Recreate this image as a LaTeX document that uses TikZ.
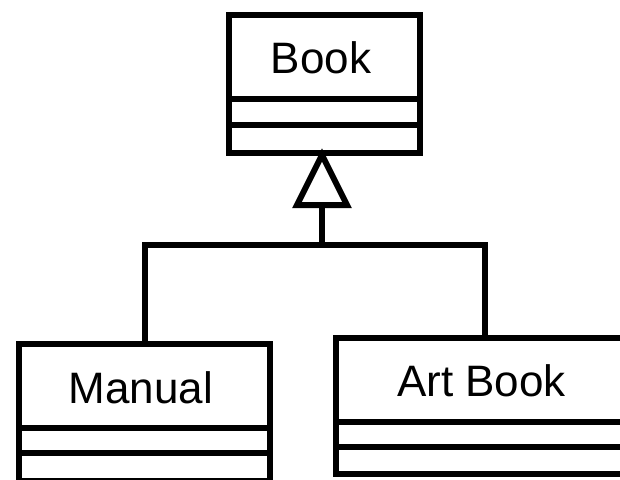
\documentclass[tikz,border=0pt]{standalone}
\usepackage{fontspec}
\setmainfont{Liberation Sans}
\begin{document}
\begin{tikzpicture}[x=1pt, y=-1pt,
  line width=6pt, line join=miter,
  classbox/.style={draw, rectangle, inner sep=0pt, anchor=north west},
  classname/.style={font=\fontsize{44}{50}\selectfont, anchor=base, inner sep=0pt},
  compartment/.style={draw}]
\useasboundingbox (0,0) rectangle (620,479);
\clip (0,0) rectangle (620,479);

% superclass
\node[classbox, minimum width=191pt, minimum height=137.5pt] (book) at (226,12) {};
\node[classname] (booklabel) at (321,73.3) {Book};
\draw (book.west |- 0,99) -- (book.east |- 0,99);
\draw (book.west |- 0,124.5) -- (book.east |- 0,124.5);

% subclasses
\node[classbox, minimum width=251pt, minimum height=137pt] (manual) at (16,341) {};
\node[classname] (manuallabel) at (141,403.3) {Manual};
\draw (manual.west |- 0,428) -- (manual.east |- 0,428);
\draw (manual.west |- 0,453) -- (manual.east |- 0,453);

\node[classbox, minimum width=297pt, minimum height=136.5pt] (artbook) at (333,334.5) {};
\node[classname] (artbooklabel) at (481.5,396.7) {Art Book};
\draw (artbook.west |- 0,422) -- (artbook.east |- 0,422);
\draw (artbook.west |- 0,447) -- (artbook.east |- 0,447);

% generalization: hollow triangle and shared tree line
\coordinate (apex) at (322,155);
\coordinate (tribase) at (322,205);
\coordinate (junction) at (322,245);
\draw (apex) -- (297,205) -- (347,205) -- cycle;
\draw (tribase) -- (junction);
\draw (manual.north) -- (manual.north |- junction) -- (artbook.north |- junction) -- (artbook.north);
\end{tikzpicture}
\end{document}
